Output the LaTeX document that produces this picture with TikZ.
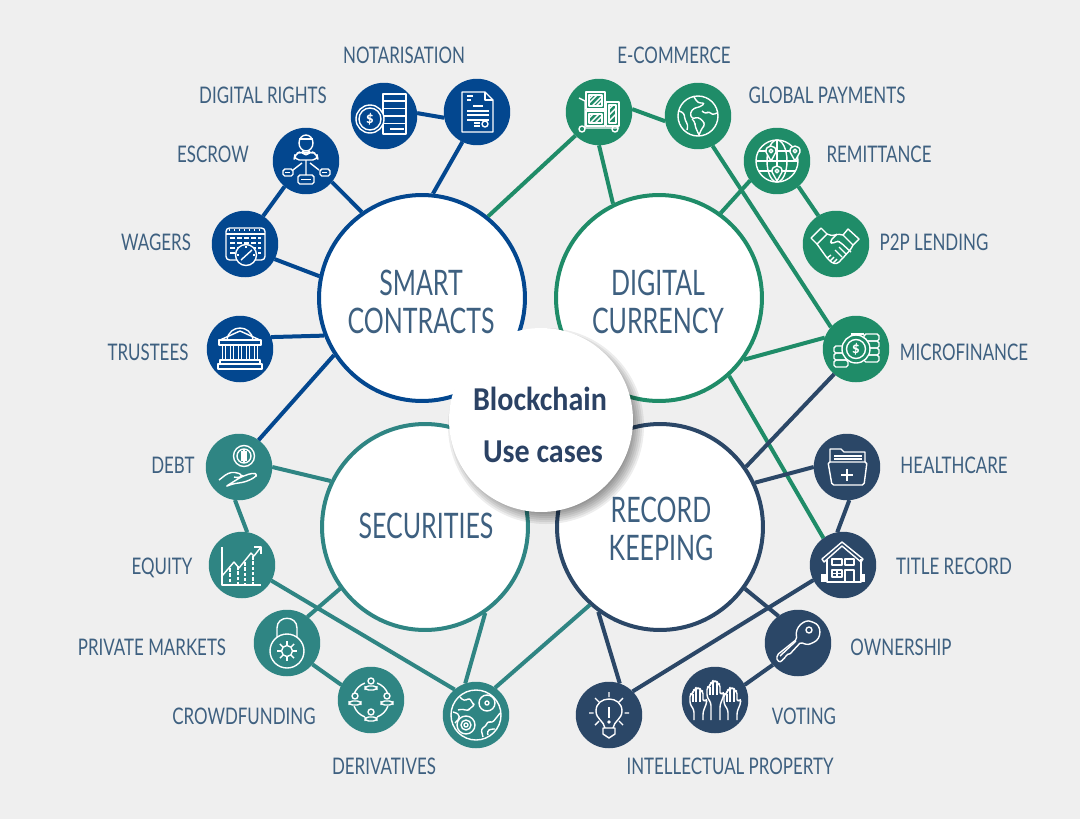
\documentclass[tikz,border=0pt]{standalone}
\usepackage{xcolor}
\usepackage{fontspec}
\usepackage{tikz}
\usetikzlibrary{calc}

\setmainfont{Carlito}
\newfontfamily\hubfont{Carlito}[FakeStretch=0.90]
\newfontfamily\bigfont{Lato}[FakeStretch=0.71]
\newfontfamily\tagfont{Lato}[FakeStretch=0.74]

\definecolor{pagegrey}{HTML}{EFEFEF}
\definecolor{smartblue}{HTML}{03478F}
\definecolor{coingreen}{HTML}{1F8C68}
\definecolor{secteal}{HTML}{2F8583}
\definecolor{recnavy}{HTML}{2B4767}
\definecolor{tagink}{HTML}{3E6080}
\definecolor{hubink}{HTML}{2B4264}

\begin{document}
\begin{tikzpicture}[
    x=0.02cm, y=-0.02cm,
    big/.style={circle, draw, fill=white, line width=0.08cm, inner sep=0pt,
                minimum size=4.12cm},
    leaf/.style={circle, inner sep=0pt, outer sep=0pt, minimum size=1.33cm},
    tag/.style={text=tagink, inner sep=0pt, text depth=0pt,
                font=\tagfont\fontsize{13}{15}\selectfont},
    bigtag/.style={text=tagink, inner sep=0pt, align=center,
                   font=\bigfont\fontsize{20}{21.6}\selectfont},
    hubtag/.style={text=hubink, inner sep=0pt, text depth=0pt,
                   font=\hubfont\bfseries\fontsize{19}{19}\selectfont},
    wire/.style={line width=0.08cm},
    ic/.style={draw=white, line width=0.8pt, line join=round},
    icb/.style={draw=white, line width=1.5pt},
    sign/.style={text=white, inner sep=0pt, font=\bfseries\fontsize{9}{9}\selectfont},
]

\fill[pagegrey] (0,0) rectangle (1080,819);

% ── Large circles ──────────────────────────────────────────────────
\node[big, draw=smartblue] (smart)  at (422,298) {};
\node[big, draw=coingreen] (coin)   at (659,298) {};
\node[big, draw=secteal]   (sec)    at (425,527) {};
\node[big, draw=recnavy]   (rec)    at (660,527) {};

\node[bigtag] (smarttxt) at (421,302) {SMART\\CONTRACTS};
\node[bigtag] (cointxt)  at (658,302) {DIGITAL\\CURRENCY};
\node[bigtag] (sectxt)   at (426,526) {SECURITIES};
\node[bigtag] (rectxt)   at (661,529) {RECORD\\KEEPING};

% ── Smart contracts ────────────────────────────────────────────────
\node[leaf, fill=smartblue] (rights)  at (384,116) {};
\node[leaf, fill=smartblue] (notar)   at (477,112) {};
\node[leaf, fill=smartblue] (escrow)  at (306,161) {};
\node[leaf, fill=smartblue] (wagers)  at (245,244) {};
\node[leaf, fill=smartblue] (trust)   at (240,349) {};

% ── Digital currency ───────────────────────────────────────────────
\node[leaf, fill=coingreen] (ecom)    at (599,112) {};
\node[leaf, fill=coingreen] (global)  at (698,116) {};
\node[leaf, fill=coingreen] (remit)   at (777,161) {};
\node[leaf, fill=coingreen] (ptop)    at (836,244) {};
\node[leaf, fill=coingreen] (micro)   at (856,349) {};

% ── Securities ─────────────────────────────────────────────────────
\node[leaf, fill=secteal]   (debt)    at (239,467) {};
\node[leaf, fill=secteal]   (equity)  at (242,565) {};
\node[leaf, fill=secteal]   (private) at (287,643) {};
\node[leaf, fill=secteal]   (crowd)   at (371,700) {};
\node[leaf, fill=secteal]   (deriv)   at (476,715) {};

% ── Record keeping ─────────────────────────────────────────────────
\node[leaf, fill=recnavy]   (health)  at (847,467) {};
\node[leaf, fill=recnavy]   (title)   at (843,565) {};
\node[leaf, fill=recnavy]   (owner)   at (798,643) {};
\node[leaf, fill=recnavy]   (voting)  at (715,700) {};
\node[leaf, fill=recnavy]   (intel)   at (609,715) {};

% ── Labels ─────────────────────────────────────────────────────────
\node[tag] (tnotar)   at (404,55)  {NOTARISATION};
\node[tag] (trights)  at (263,95)  {DIGITAL RIGHTS};
\node[tag] (tescrow)  at (213,154) {ESCROW};
\node[tag] (twagers)  at (156,242) {WAGERS};
\node[tag] (ttrust)   at (148,352) {TRUSTEES};
\node[tag] (tdebt)    at (173,465) {DEBT};
\node[tag] (tequity)  at (162,566) {EQUITY};
\node[tag] (tprivate) at (152,647) {PRIVATE MARKETS};
\node[tag] (tcrowd)   at (244,716) {CROWDFUNDING};
\node[tag] (tderiv)   at (384,766) {DERIVATIVES};
\node[tag] (tecom)    at (674,55)  {E-COMMERCE};
\node[tag] (tglobal)  at (827,95)  {GLOBAL PAYMENTS};
\node[tag] (tremit)   at (879,154) {REMITTANCE};
\node[tag] (tptop)    at (934,242) {P2P LENDING};
\node[tag] (tmicro)   at (964,352) {MICROFINANCE};
\node[tag] (thealth)  at (954,465) {HEALTHCARE};
\node[tag] (ttitle)   at (954,566) {TITLE RECORD};
\node[tag] (towner)   at (901,647) {OWNERSHIP};
\node[tag] (tvoting)  at (804,716) {VOTING};
\node[tag] (tintel)   at (730,766) {INTELLECTUAL PROPERTY};

% ── Connectors ─────────────────────────────────────────────────────
\draw[wire, smartblue] (rights.5)   -- (notar.190);
\draw[wire, smartblue] (notar.244)  -- (smart.84);
\draw[wire, smartblue] (escrow.321) -- (smart.125);
\draw[wire, smartblue] (escrow.230) -- (wagers.57);
\draw[wire, smartblue] (wagers.333) -- (smart.168);
\draw[wire, smartblue] (trust.21)   -- (smart.201);
\draw[wire, smartblue] (debt.54)    -- (smart.213);

\draw[wire, coingreen] (ecom.225)   -- (smart.51);
\draw[wire, coingreen] (ecom.270)   -- (coin.116);
\draw[wire, coingreen] (ecom.5)     -- (global.189);
\draw[wire, coingreen] (global.296) -- (micro.139);
\draw[wire, coingreen] (remit.216)  -- (coin.54);
\draw[wire, coingreen] (remit.310)  -- (ptop.122);
\draw[wire, coingreen] (micro.160)  -- (coin.324);
\draw[wire, coingreen] (coin.312)   -- (title.126);

\draw[wire, secteal] (debt.0)     -- (sec.154);
\draw[wire, secteal] (debt.263)   -- (equity.81);
\draw[wire, secteal] (equity.332) -- (deriv.130);
\draw[wire, secteal] (private.52) -- (sec.216);
\draw[wire, secteal] (private.320) -- (crowd.153);
\draw[wire, secteal] (deriv.109)  -- (sec.305);
\draw[wire, secteal] (deriv.55)   -- (rec.228);

\draw[wire, recnavy] (micro.229)  -- (rec.35);
\draw[wire, recnavy] (health.180) -- (rec.25);
\draw[wire, recnavy] (health.274) -- (title.100);
\draw[wire, recnavy] (title.207)  -- (intel.45);
\draw[wire, recnavy] (rec.324)    -- (owner.126);
\draw[wire, recnavy] (owner.221)  -- (voting.27);
\draw[wire, recnavy] (rec.234)    -- (intel.71);

% ── Centre, with a soft shadow ─────────────────────────────────────
\foreach \grow in {12,10,...,0}
  \fill[black, opacity=0.07] (546,426) circle[radius=86+\grow];
\node[circle, fill=white, inner sep=0pt, minimum size=3.68cm] (hub) at (541,420) {};
\node[hubtag] (hubtop) at (540,399) {Blockchain};
\node[hubtag] (hubbot) at (543,452) {Use cases};

% ── Icons: smart contracts ─────────────────────────────────────────
\begin{scope}[shift={(notar)}]
  \draw[ic] (-15,-20) -- (8,-20) -- (16,-12) -- (16,20) -- (-15,20) -- cycle;
  \draw[ic] (8,-20) -- (8,-12) -- (16,-12);
  \draw[ic] (-10,-16) -- (-4,-16) (-10,-12) -- (-6,-12) (-4,-6) -- (6,-6);
  \foreach \rowy in {-1,3,8} \draw[ic] (-10,\rowy) -- (12,\rowy);
  \draw[ic] (-3,11) -- (3,11) (-3,14) -- (3,14);
  \draw[ic] (8,12) circle[radius=3];
\end{scope}

\begin{scope}[shift={(rights)}]
  \draw[ic] (-1,-22) rectangle (22,18);
  \foreach \rowy in {-15,-7.5,0,7.5} \draw[ic] (-1,\rowy) -- (22,\rowy);
  \draw[ic] (6,13) -- (20,13);
  \draw[ic, fill=smartblue] (-14,3) circle[radius=14];
  \draw[ic] (-14,3) circle[radius=11];
  \node[sign] (rightsign) at (-14,3) {\$};
\end{scope}

\begin{scope}[shift={(escrow)}]
  \draw[ic] (0,-18) ellipse[x radius=7, y radius=8];
  \draw[ic] (-7,-22) -- (7,-22);
  \draw[ic, rounded corners=3pt] (-12,-1) -- (-11,-7) -- (-4,-10) -- (0,-6) -- (4,-10) -- (11,-7) -- (12,-1) -- cycle;
  \draw[ic] (0,-1) -- (0,14) (-4,2) -- (-13,9) (4,2) -- (13,9);
  \draw[ic, rounded corners=1pt] (-23,8) rectangle (-13,15);
  \draw[ic, rounded corners=1pt] (14,8) rectangle (24,15);
  \draw[ic, rounded corners=1pt] (-8,14) rectangle (8,23);
  \draw[ic] (-21,11.5) -- (-16,11.5) (16,11.5) -- (21,11.5) (-5,18.5) -- (5,18.5);
\end{scope}

\begin{scope}[shift={(wagers)}]
  \draw[ic, rounded corners=2pt] (-19,-16) rectangle (20,16);
  \draw[ic] (-19,-10) -- (20,-10);
  \draw[ic, dotted] (-16,-14) -- (17,-14);
  \foreach \rowy in {-6,-1,4,9} \draw[ic, dash pattern=on 3pt off 1pt] (-15,\rowy) -- (16,\rowy);
  \draw[ic, fill=smartblue] (1,11) circle[radius=10.5];
  \draw[ic] (-4,16) -- (7,6);
  \draw[ic] (1,2) -- (1,4) (-8,11) -- (-6,11) (10,11) -- (8,11);
\end{scope}

\begin{scope}[shift={(trust)}]
  \draw[ic] (-13,-9) .. controls (-11,-25) and (11,-25) .. (13,-9);
  \draw[ic] (-20,-9) -- (0,-18) -- (20,-9);
  \draw[ic] (-21,-9) rectangle (21,-4);
  \foreach \colx in {-16,-8,0,8,16} {
    \draw[ic] (\colx-1.7,-4) -- (\colx-1.7,11) (\colx+1.7,-4) -- (\colx+1.7,11);
  }
  \draw[ic] (-20,11) rectangle (20,15);
  \draw[ic] (-22,15) rectangle (22,20);
\end{scope}

% ── Icons: digital currency ────────────────────────────────────────
\begin{scope}[shift={(ecom)}]
  \draw[ic] (-13,-20) rectangle (6,-3);
  \draw[ic] (-13,-1) rectangle (6,14);
  \draw[ic] (7,-10) rectangle (20,14);
  \draw[ic] (-10,-17) rectangle (3,-6);
  \draw[ic] (-10,2) rectangle (3,11);
  \draw[ic] (10,-7) rectangle (17,11);
  \draw[ic] (-10,-13) -- (-6,-17) (-10,-9) -- (-2,-17) (-7,-6) -- (3,-16) (-3,-6) -- (3,-12);
  \draw[ic] (-10,6) -- (-6,2) (-9,11) -- (0,2) (-4,11) -- (3,4);
  \draw[ic] (10,-3) -- (14,-7) (10,3) -- (17,-4) (10,9) -- (17,2);
  \draw[ic] (-20,-14) -- (-14,-11) -- (-14,16) -- (20,16);
  \draw[ic] (-17,17) circle[radius=3];
  \draw[ic] (16,17) circle[radius=3];
\end{scope}

\begin{scope}[shift={(global)}]
  \draw[ic] (0,0) circle[radius=20];
  \draw[ic, rounded corners=1.5pt] (-4,-19) -- (0,-13) -- (7,-13) -- (2,-9) -- (-4,-8) -- (-8,-3) -- (-6,3) -- (0,1) -- (5,5) -- (7,9) -- (4,12) -- (1,19);
  \draw[ic, rounded corners=1.5pt] (1,19) -- (-3,10) -- (-3,6) -- (-6,3);
  \draw[ic, rounded corners=1.5pt] (4,-5) -- (8,-2) -- (11,-5) -- (14,-1) -- (19,-3);
  \draw[ic, rounded corners=1.5pt] (-19,-5) -- (-14,-3) -- (-13,4) -- (-10,9) -- (-11,14);
\end{scope}

\begin{scope}[shift={(remit)}]
  \draw[ic] (0,0) circle[radius=21];
  \draw[ic] (0,0) ellipse[x radius=10, y radius=21];
  \draw[ic] (0,-21) -- (0,21) (-21,0) -- (21,0);
  \draw[ic] (-18,-10) -- (18,-10) (-18,10) -- (18,10);
  \foreach \pinx/\piny in {-6/-9, 18/-9, 0/11} {
    \draw[ic, fill=coingreen] (\pinx,\piny+9) -- (\pinx-5,\piny) .. controls (\pinx-6,\piny-8) and (\pinx+6,\piny-8) .. (\pinx+5,\piny) -- cycle;
    \draw[ic] (\pinx,\piny-1) circle[radius=1.8];
  }
\end{scope}

\begin{scope}[shift={(ptop)}]
  \draw[ic] (-25,-6) -- (-15,-16) -- (-9,-10) -- (-19,0) -- cycle;
  \draw[ic] (12,-15) -- (23,-5) -- (17,1) -- (7,-9) -- cycle;
  \draw[ic, rounded corners=1.5pt] (-19,0) -- (-9,14) -- (-4,19) -- (1,20) -- (6,15) -- (15,5) -- (17,1);
  \draw[ic, rounded corners=1.5pt] (-9,-10) -- (-3,-8) -- (1,-10) -- (7,-9);
  \draw[ic, rounded corners=1.5pt] (1,-10) -- (-6,-3) -- (-4,0) -- (1,-3) -- (4,-2) -- (15,8);
  \draw[ic] (-1,6) -- (6,13) (3,3) -- (10,10) (-9,14) -- (-5,11) (-6,17) -- (-2,13) (-3,19) -- (1,15);
\end{scope}

\begin{scope}[shift={(micro)}]
  \foreach \rowy in {-3,4,11} \draw[ic, rounded corners=1pt] (-22,\rowy) rectangle (-8,\rowy+7);
  \foreach \rowy in {-15,-8,-1,6} \draw[ic, rounded corners=1pt] (8,\rowy) rectangle (23,\rowy+7);
  \draw[ic, rounded corners=1pt] (-5,-15) -- (8,-15);
  \draw[ic, fill=coingreen] (0,0) circle[radius=14];
  \draw[ic] (0,0) circle[radius=9.5];
  \node[sign] (microsign) at (0,0) {\$};
\end{scope}

% ── Icons: securities ──────────────────────────────────────────────
\begin{scope}[shift={(debt)}]
  \draw[ic] (5,-11) circle[radius=10.5];
  \draw[ic] (5,-11) circle[radius=7];
  \foreach \rowy in {-15,-13,-11,-9,-7} \draw[ic] (2,\rowy) -- (8,\rowy);
  \draw[ic] (5,-18) -- (5,-4);
  \draw[ic, rounded corners=2pt] (-20,13) -- (-11,6) -- (-4,5) -- (4,8) -- (1,11) -- (-5,10) (2,10) -- (13,6) -- (19,7) -- (15,11) -- (6,15) -- (-7,17) -- (-14,20) -- cycle;
\end{scope}

\begin{scope}[shift={(equity)}]
  \draw[ic] (-20,-18) -- (-20,20) -- (19,20);
  \foreach \tick in {-12,-4,4,12} \draw[ic] (-21.5,\tick) -- (-20,\tick);
  \draw[ic] (-20,11) -- (-8,-3) -- (-3,3) -- (9,-12) -- (12,-9) -- (19,-18);
  \draw[ic] (12,-18) -- (19,-18) -- (19,-11);
  \foreach \barx/\bartop in {-12/3, -4/1, 3/-3, 11/-9} {
    \draw[ic, dash pattern=on 2pt off 1pt] (\barx,\bartop) -- (\barx,20);
  }
\end{scope}

\begin{scope}[shift={(private)}]
  \draw[ic] (-10,-6) -- (-10,-15) .. controls (-10,-28) and (10,-28) .. (10,-15) -- (10,-6);
  \draw[ic] (0,8) circle[radius=17];
  \draw[ic] (0,8) circle[radius=5.5];
  \foreach \spoke in {0,45,...,315} \draw[ic] ($(0,8)+(\spoke:5.5)$) -- ($(0,8)+(\spoke:10)$);
\end{scope}

\begin{scope}[shift={(crowd)}]
  \foreach \px/\py in {0/-15, -16/0, 16/0, 0/16} {
    \draw[ic] (\px,\py-4) circle[radius=3];
    \draw[ic, rounded corners=2pt] (\px-6,\py+5) -- (\px-6,\py+1) -- (\px+6,\py+1) -- (\px+6,\py+5) -- cycle;
  }
  \foreach \ang in {20,110,200,290} \draw[ic] (\ang:18) arc[start angle=\ang, end angle=\ang+50, radius=18];
\end{scope}

\begin{scope}[shift={(deriv)}]
  \draw[ic] (0,0) circle[radius=25];
  \draw[ic] (-10,10) circle[radius=9];
  \draw[ic] (-10,10) circle[radius=5];
  \draw[ic] (-10,10) circle[radius=2];
  \draw[ic] (11,-12) circle[radius=8];
  \draw[ic] (11,-12) circle[radius=2];
  \draw[ic, rounded corners=1.5pt] (-16,-18) -- (-12,-14) -- (-6,-17) -- (-4,-12) -- (-1,-10) -- (-6,-7) -- (-8,-4) -- (-13,-6) -- (-18,-5);
  \draw[ic, rounded corners=1.5pt] (-23,-3) .. controls (-14,-1) and (-16,4) .. (-21,8);
  \draw[ic, rounded corners=1.5pt] (7,22) -- (5,14) -- (10,11) -- (12,6) -- (16,8) -- (21,2) -- (24,-2);
  \draw[ic, rounded corners=1.5pt] (12,20) -- (11,16) -- (15,14) -- (19,14);
\end{scope}

% ── Icons: record keeping ──────────────────────────────────────────
\begin{scope}[shift={(health)}]
  \draw[ic] (-17,-5) -- (-17,-18) -- (-6,-18) -- (-3,-15) -- (18,-15) -- (18,-5);
  \draw[ic] (-13,-11) -- (15,-11) (-13,-8) -- (15,-8);
  \draw[ic, rounded corners=1pt] (-19,-5) -- (20,-5) -- (17,18) -- (-15,18) -- cycle;
  \draw[icb] (0,2) -- (0,14) (-6,8) -- (6,8);
\end{scope}

\begin{scope}[shift={(title)}]
  \draw[ic] (-21,-6) -- (-1,-23) -- (20,-6) -- (18,-3) -- (-1,-19) -- (-19,-3) -- cycle;
  \draw[ic] (-16,-6) -- (-16,17) -- (18,17) -- (18,-6);
  \draw[ic] (-11,-6) rectangle (-1,0);
  \draw[ic] (2,-6) rectangle (11,0);
  \draw[ic] (-11,5) rectangle (-1,12);
  \draw[ic] (-6,5) -- (-6,12) (-11,8.5) -- (-1,8.5);
  \draw[ic] (2,17) -- (2,5) -- (11,5) -- (11,17);
  \foreach \fencex in {-21,-19,-17,19,21} \draw[ic] (\fencex,9) -- (\fencex,17);
  \draw[ic] (-22,12) -- (-16,12) (18,12) -- (22,12);
\end{scope}

\begin{scope}[shift={(owner)}]
  \draw[ic, rounded corners=1pt] (-1,-4) .. controls (-4,-16) and (7,-24) .. (14,-21) .. controls (24,-18) and (24,-4) .. (14,0) .. controls (10,2) and (6,1) .. (3,-1) -- (-9,12) -- (-12,11) -- (-12,15) -- (-15,15) -- (-16,19) -- (-21,18) -- (-21,12) -- cycle;
  \draw[ic] (11,-13) circle[radius=3];
  \draw[ic] (-18,13) -- (-2,-2);
\end{scope}

\begin{scope}[shift={(voting)}]
  \foreach \hx/\hy in {-17/7, 0/0, 17/7} {
    \begin{scope}[shift={(\hx,\hy)}]
      \draw[ic, rounded corners=1.5pt] (-4,20-\hy) -- (-4,3) -- (-8,-3) -- (-8,-13) -- (-5,-13) -- (-5,-17) -- (-2,-17) -- (-2,-19) -- (2,-19) -- (2,-16) -- (5,-16) -- (5,-5) -- (8,-8) -- (9,-5) -- (5,5) -- (5,20-\hy);
      \draw[ic] (-5,-13) -- (-5,-5) (-2,-17) -- (-2,-5) (2,-16) -- (2,-5);
    \end{scope}
  }
\end{scope}

\begin{scope}[shift={(intel)}]
  \draw[ic] (-4,13) .. controls (-5,6) and (-13,4) .. (-13,-4) .. controls (-13,-20) and (13,-20) .. (13,-4) .. controls (13,4) and (5,6) .. (4,13);
  \draw[ic] (-6,13) -- (6,13) -- (6,19) -- (0,23) -- (-6,19) -- cycle;
  \draw[icb] (0,-8) -- (0,3);
  \fill[white] (0,7) circle[radius=1.8];
  \draw[ic] (0,-23) -- (0,-18) (-14,-17) -- (-10,-13) (14,-17) -- (10,-13) (-20,-2) -- (-15.5,-2) (20,-2) -- (15.5,-2) (-14,10) -- (-10,6) (14,10) -- (10,6);
\end{scope}

\end{tikzpicture}
\end{document}
